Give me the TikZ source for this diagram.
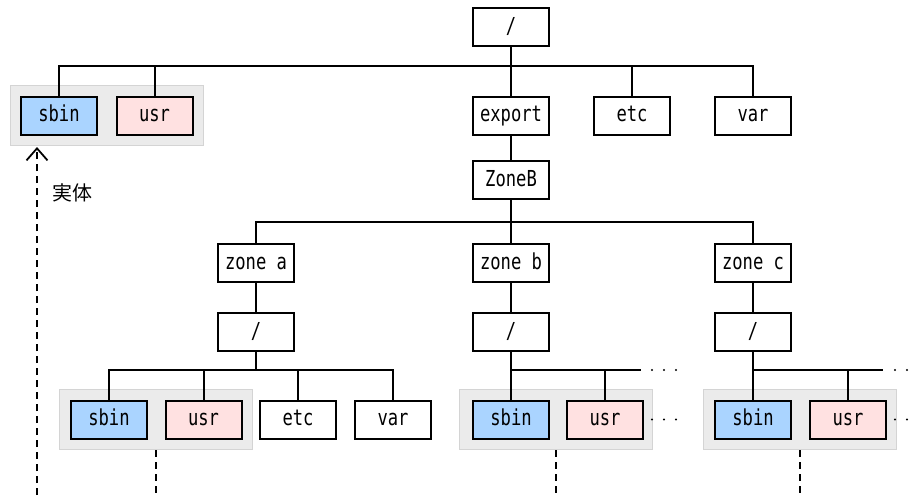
\documentclass[tikz,border=0pt]{standalone}
\usepackage{fontspec}
\newfontfamily\boxfont[FakeStretch=0.78]{DejaVu Sans Mono}
\newfontfamily\cjkfont{Noto Sans CJK JP}
\usetikzlibrary{arrows.meta}
\definecolor{sbinblue}{HTML}{AAD4FF}
\definecolor{usrpink}{HTML}{FFE1E1}
\definecolor{grpfill}{HTML}{EBEBEB}
\definecolor{grpdraw}{HTML}{D4D4D4}
\begin{document}
\begin{tikzpicture}[x=1pt,y=-1pt,
  dirbox/.style={draw=black, line width=2pt, fill=white, minimum width=76pt, minimum height=38pt,
    inner sep=0pt, text height=16pt, text depth=4pt, font=\boxfont\fontsize{22}{22}\selectfont},
  sbinbox/.style={dirbox, fill=sbinblue},
  usrbox/.style={dirbox, fill=usrpink},
  group/.style={draw=grpdraw, fill=grpfill, line width=1.6pt, minimum width=193pt, minimum height=60pt, inner sep=0pt},
  link/.style={line width=2pt},
  realline/.style={line width=2pt, dash pattern=on 7pt off 5pt},
  ddot/.style={fill=black}]
\useasboundingbox (0,0) rectangle (912,495);
\clip (0,0) rectangle (912,495);

% gray groups
\node[group] (grpT) at (107,115.5) {};
\node[group] (grpA) at (156,419.5) {};
\node[group] (grpB) at (556,419.5) {};
\node[group] (grpC) at (800,419.5) {};

% top level
\node[dirbox] (root) at (511,27.5) {/};
\node[sbinbox] (sbinT) at (59,115.5) {sbin};
\node[usrbox] (usrT) at (154.5,115.5) {usr};
\node[dirbox] (export) at (511,115.5) {export};
\node[dirbox] (etcT) at (632,115.5) {etc};
\node[dirbox] (varT) at (753,115.5) {var};
\node[dirbox] (zoneB) at (511,180) {ZoneB};

% zones
\node[dirbox] (za) at (256,263) {zone a};
\node[dirbox] (zb) at (511,263) {zone b};
\node[dirbox] (zc) at (753,263) {zone c};
\node[dirbox] (ra) at (256,332) {/};
\node[dirbox] (rb) at (511,332) {/};
\node[dirbox] (rc) at (753,332) {/};

% bottom row
\node[sbinbox] (sbinA) at (109,419.5) {sbin};
\node[usrbox] (usrA) at (203.5,419.5) {usr};
\node[dirbox] (etcA) at (298,419.5) {etc};
\node[dirbox] (varA) at (393,419.5) {var};
\node[sbinbox] (sbinB) at (511,419.5) {sbin};
\node[usrbox] (usrB) at (605,419.5) {usr};
\node[sbinbox] (sbinC) at (753,419.5) {sbin};
\node[usrbox] (usrC) at (848,419.5) {usr};

% bus coordinates
\coordinate (busT) at (0,66);
\coordinate (busZ) at (0,222);
\coordinate (busA) at (0,370);
\coordinate (endB) at (641,370);
\coordinate (endC) at (883,370);

% top tree
\draw[link] (sbinT.north) |- (varT.north |- busT) -- (varT.north);
\draw[link] (root.south) -- (export.north);
\draw[link] (usrT.north) -- (usrT.north |- busT);
\draw[link] (etcT.north) -- (etcT.north |- busT);
\draw[link] (export.south) -- (zoneB.north);

% zone tree
\draw[link] (za.north) |- (zc.north |- busZ) -- (zc.north);
\draw[link] (zoneB.south) -- (zb.north);
\draw[link] (za.south) -- (ra.north);
\draw[link] (zb.south) -- (rb.north);
\draw[link] (zc.south) -- (rc.north);

% zone a
\draw[link] (sbinA.north) |- (varA.north |- busA) -- (varA.north);
\draw[link] (ra.south) -- (ra.south |- busA);
\draw[link] (usrA.north) -- (usrA.north |- busA);
\draw[link] (etcA.north) -- (etcA.north |- busA);

% zone b
\draw[link] (rb.south) -- (sbinB.north);
\draw[link] (sbinB.north |- busA) -- (endB);
\draw[link] (usrB.north) -- (usrB.north |- busA);

% zone c
\draw[link] (rc.south) -- (sbinC.north);
\draw[link] (sbinC.north |- busA) -- (endC);
\draw[link] (usrC.north) -- (usrC.north |- busA);

% continuation dots
\foreach \x in {652,664,676} {
  \fill[ddot] (\x,370) circle (1.2pt);
  \fill[ddot] (\x,419.5) circle (1.2pt);
}
\foreach \x in {895,907,919} {
  \fill[ddot] (\x,370) circle (1.2pt);
  \fill[ddot] (\x,419.5) circle (1.2pt);
}

% real-entity link
\coordinate (tipT) at (37,147);
\coordinate (baseT) at (37,495);
\draw[realline, -{Straight Barb[length=12pt,width=21pt,line width=1.8pt]}] (baseT) -- (tipT);
\node[font=\cjkfont\fontsize{20}{20}\selectfont, anchor=west] (lbl) at (49,193) {実体};

\coordinate (baseA) at (grpA.south |- baseT);
\coordinate (baseB) at (grpB.south |- baseT);
\coordinate (baseC) at (grpC.south |- baseT);
\draw[realline] (grpA.south) -- (baseA);
\draw[realline] (grpB.south) -- (baseB);
\draw[realline] (grpC.south) -- (baseC);
\end{tikzpicture}
\end{document}
